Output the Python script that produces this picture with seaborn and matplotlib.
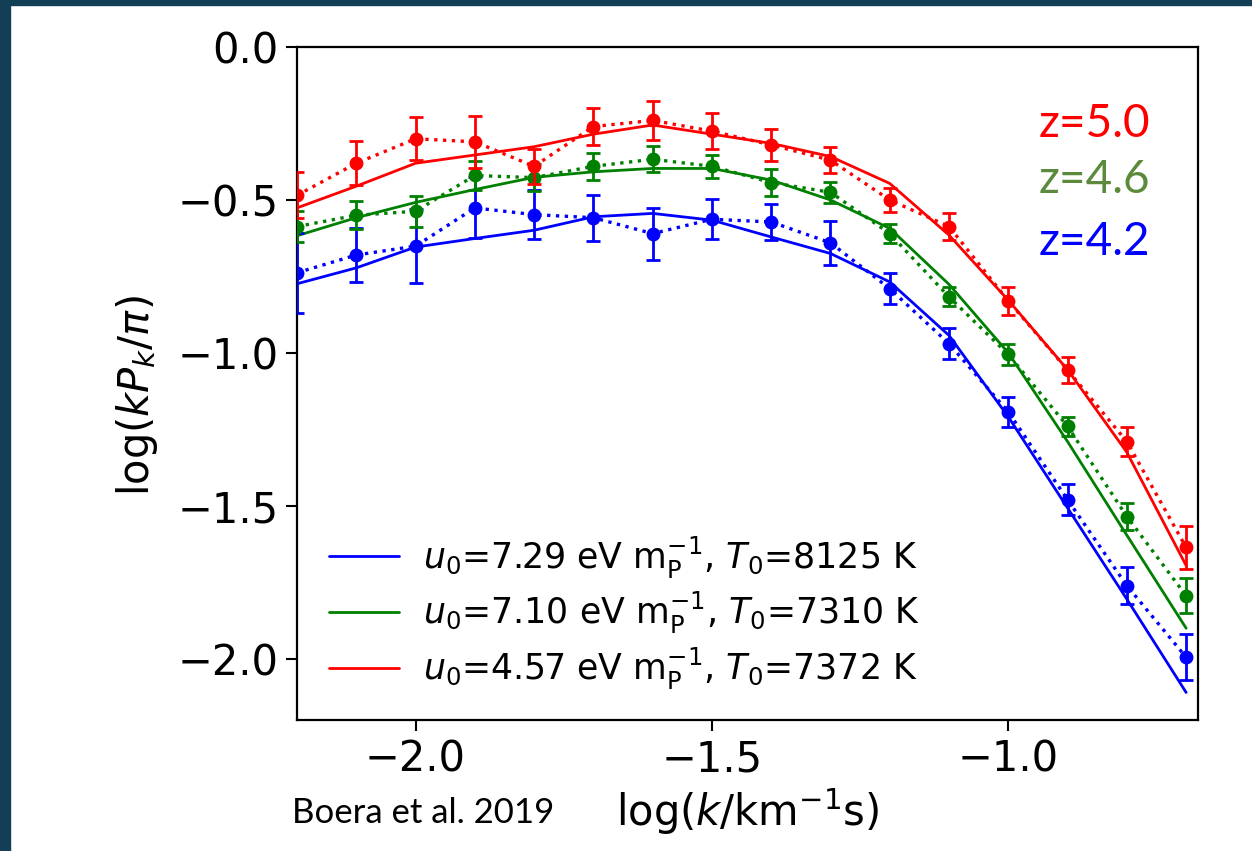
import matplotlib
matplotlib.use("Agg")
import matplotlib.pyplot as plt
import seaborn as sns
import pandas as pd
from matplotlib.patches import Rectangle

# log k sampling of the flux power spectrum
log_k = [-2.2, -2.1, -2.0, -1.9, -1.8, -1.7, -1.6, -1.5,
         -1.4, -1.3, -1.2, -1.1, -1.0, -0.9, -0.8, -0.7]

# measured log(kP_k/pi) with 1-sigma errors
obs_z50 = [-0.485, -0.38, -0.30, -0.31, -0.39, -0.26, -0.24, -0.275,
           -0.32, -0.37, -0.50, -0.587, -0.83, -1.056, -1.29, -1.636]
err_z50 = [0.075, 0.072, 0.07, 0.085, 0.058, 0.06, 0.063, 0.06,
           0.053, 0.043, 0.038, 0.044, 0.046, 0.043, 0.048, 0.07]
obs_z46 = [-0.587, -0.55, -0.537, -0.42, -0.427, -0.39, -0.367, -0.39,
           -0.443, -0.475, -0.61, -0.817, -1.005, -1.24, -1.535, -1.794]
err_z46 = [0.05, 0.046, 0.05, 0.048, 0.045, 0.045, 0.043, 0.037,
           0.045, 0.035, 0.03, 0.031, 0.033, 0.032, 0.043, 0.057]
obs_z42 = [-0.738, -0.68, -0.651, -0.526, -0.548, -0.558, -0.61, -0.563,
           -0.572, -0.64, -0.79, -0.97, -1.193, -1.48, -1.761, -1.995]
err_z42 = [0.13, 0.087, 0.12, 0.10, 0.08, 0.075, 0.085, 0.066,
           0.059, 0.071, 0.05, 0.05, 0.05, 0.051, 0.061, 0.075]

# best-fitting simulation models
mod_z50 = [-0.526, -0.455, -0.38, -0.353, -0.326, -0.285, -0.255, -0.285,
           -0.315, -0.358, -0.446, -0.615, -0.828, -1.055, -1.325, -1.695]
mod_z46 = [-0.617, -0.558, -0.508, -0.466, -0.426, -0.408, -0.397, -0.397,
           -0.435, -0.50, -0.593, -0.776, -1.0, -1.29, -1.596, -1.90]
mod_z42 = [-0.774, -0.722, -0.654, -0.626, -0.599, -0.555, -0.544, -0.566,
           -0.621, -0.675, -0.768, -0.943, -1.209, -1.507, -1.805, -2.11]

model_labels = [
    r"$u_0$=7.29 eV m$_{\rm P}^{-1}$, $T_0$=8125 K",
    r"$u_0$=7.10 eV m$_{\rm P}^{-1}$, $T_0$=7310 K",
    r"$u_0$=4.57 eV m$_{\rm P}^{-1}$, $T_0$=7372 K",
]
redshift_labels = ["z=4.2", "z=4.6", "z=5.0"]
line_colors = ["blue", "green", "red"]
text_colors = ["#0000ff", "#5b8a3c", "#ff0000"]

sns.set_theme(style="ticks")
plt.rcParams["font.family"] = ["DejaVu Sans"]
plt.rcParams["mathtext.fontset"] = "dejavusans"
plt.rcParams["text.color"] = "black"
plt.rcParams["axes.labelcolor"] = "black"

fig = plt.figure(figsize=(12.52, 8.51), dpi=100)
fig.patch.set_facecolor("white")
# slide frame along the top and left edges
fig.patches.append(Rectangle((0, 1 - 5 / 851), 1, 5 / 851, transform=fig.transFigure,
                             color="#123f55", zorder=0))
fig.patches.append(Rectangle((0, 0), 10 / 1252, 1, transform=fig.transFigure,
                             color="#123f55", zorder=0))

ax = fig.add_axes([297 / 1252, 1 - 720 / 851, 901 / 1252, 673 / 851])

obs = [obs_z42, obs_z46, obs_z50]
errs = [err_z42, err_z46, err_z50]
mods = [mod_z42, mod_z46, mod_z50]

for m, lab, c in zip(mods, model_labels, line_colors):
    df = pd.DataFrame({"log_k": log_k, "val": m})
    sns.lineplot(data=df, x="log_k", y="val", color=c, lw=2.0, label=lab,
                 ax=ax, zorder=3)

for o, e, c in zip(obs, errs, line_colors):
    df = pd.DataFrame({"log_k": log_k, "val": o})
    sns.lineplot(data=df, x="log_k", y="val", color=c, lw=2.4, linestyle=":",
                 marker="o", markersize=10, markeredgewidth=0, ax=ax,
                 legend=False, zorder=4)
    ax.errorbar(log_k, o, yerr=e, fmt="none", ecolor=c, elinewidth=2.0,
                capsize=5, capthick=2.0, zorder=4)

ax.set_xlim(-2.2, -0.68)
ax.set_ylim(-2.2, 0.0)
ax.set_xticks([-2.0, -1.5, -1.0])
ax.set_yticks([0.0, -0.5, -1.0, -1.5, -2.0])
ax.tick_params(axis="both", labelsize=30, length=8, width=1.5, direction="out",
               colors="black", pad=5)
for s in ax.spines.values():
    s.set_visible(True)
    s.set_linewidth(1.6)
    s.set_color("black")

ax.set_xlabel(r"log($k$/km$^{-1}$s)", fontsize=30)
ax.set_ylabel(r"log($kP_k/\pi$)", fontsize=30)
ax.xaxis.set_label_coords(0.5, -0.098)
ax.yaxis.set_label_coords(-0.152, 0.482)

leg = ax.legend(loc="lower left", bbox_to_anchor=(0.036, 0.041), frameon=False,
                fontsize=25, handlelength=2.0, handletextpad=0.7,
                labelspacing=0.28, borderpad=0, borderaxespad=0)

for lab, c, yy in zip(redshift_labels, text_colors, [242, 180, 124]):
    fig.text(1039 / 1252, 1 - yy / 851, lab, color=c, fontsize=33,
             family=["Lato", "DejaVu Sans"], va="center", ha="left")

fig.text(292 / 1252, 1 - 813 / 851, "Boera et al. 2019", fontsize=25,
         family=["Lato", "DejaVu Sans"], va="center", ha="left", color="black")

fig.savefig("out.png", dpi=100, facecolor=fig.get_facecolor())
